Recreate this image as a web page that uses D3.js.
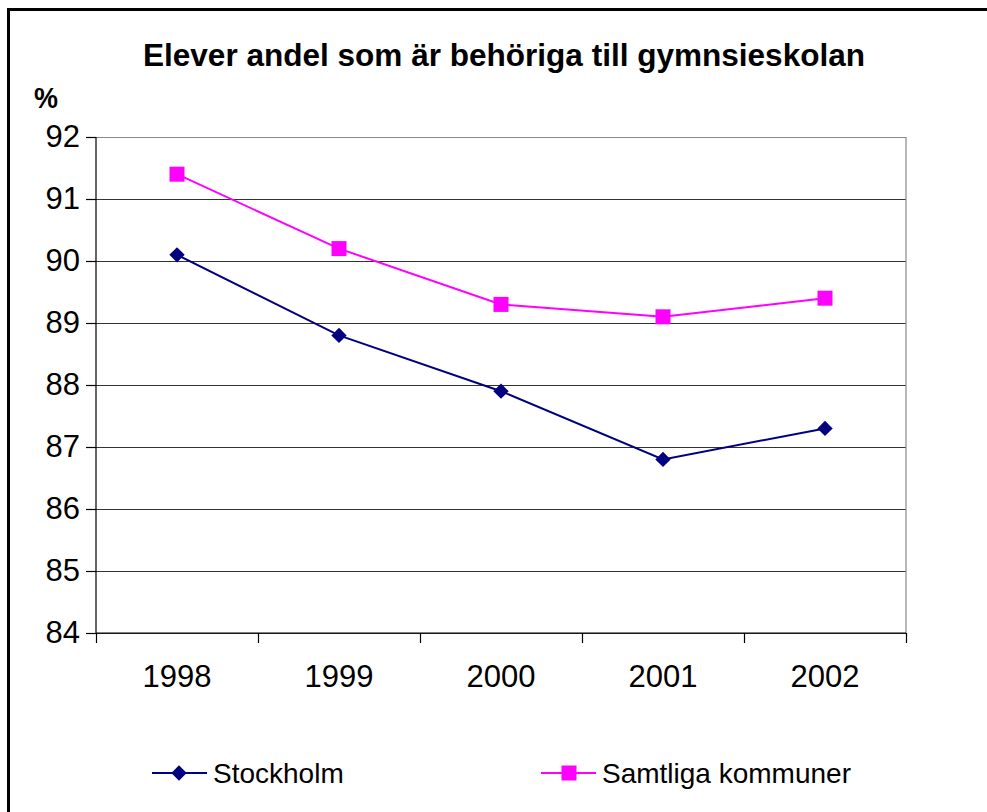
<!DOCTYPE html>
<html>
<head>
<meta charset="utf-8">
<script src="https://cdn.jsdelivr.net/npm/d3@7"></script>
<style>
  body { margin: 0; background: #fff; }
  svg text { font-family: Arial, "Liberation Sans", sans-serif; }
</style>
</head>
<body>
<div id="chart-area"></div>
<script>
// data
var years = ['1998', '1999', '2000', '2001', '2002'];
var stockholm = [90.1, 88.8, 87.9, 86.8, 87.3];
var samtliga = [91.4, 90.2, 89.3, 89.1, 89.4];
var yTicks = [84, 85, 86, 87, 88, 89, 90, 91, 92];
var seriesNames = ['Stockholm', 'Samtliga kommuner'];

var width = 987;
var height = 812;

var svg = d3.select('#chart-area')
	.append('svg')
	.attr('width', width)
	.attr('height', height);

// outer frame (only top and left visible)
svg.append('rect')
	.attr('x', 8.5).attr('y', 9.5)
	.attr('width', 1000).attr('height', 900)
	.attr('fill', 'none')
	.attr('stroke', '#000')
	.attr('stroke-width', 3);

var plot = { left: 96, right: 906, top: 137, bottom: 633 };

var x = d3.scaleBand()
	.domain(years)
	.range([plot.left, plot.right])
	.padding(0);

var xEdge = d3.scaleLinear()
	.domain([0, years.length])
	.range([plot.left, plot.right]);

var y = d3.scaleLinear()
	.domain([84, 92])
	.range([plot.bottom, plot.top]);

// gridlines
svg.append('g')
	.attr('transform', 'translate(' + plot.left + ',0)')
	.call(d3.axisLeft(y).tickValues(yTicks).tickSize(-(plot.right - plot.left)).tickFormat(''))
	.call(g => g.select('.domain').remove())
	.selectAll('line')
		.attr('stroke', d => d == 92 ? '#888' : '#333')
		.attr('stroke-width', 1.2);

// plot right border
svg.append('line')
	.attr('x1', plot.right).attr('x2', plot.right)
	.attr('y1', plot.top).attr('y2', plot.bottom)
	.attr('stroke', '#888')
	.attr('stroke-width', 1.2);

// y axis
var yAxis = svg.append('g')
	.attr('transform', 'translate(' + plot.left + ',0)')
	.call(d3.axisLeft(y).tickValues(yTicks).tickSize(10).tickPadding(6));
yAxis.selectAll('line, path').attr('stroke', '#000').attr('stroke-width', 1.2);
yAxis.select('.domain').attr('d', 'M0,' + plot.top + 'V' + plot.bottom);
yAxis.selectAll('text')
	.attr('font-size', 31)
	.attr('fill', '#000')
	.attr('font-family', 'Arial, "Liberation Sans", sans-serif');

// x axis line + ticks at category edges
var xAxis = svg.append('g')
	.attr('transform', 'translate(0,' + plot.bottom + ')')
	.call(d3.axisBottom(xEdge).tickValues(d3.range(years.length + 1)).tickSize(10).tickFormat(''));
xAxis.selectAll('line, path').attr('stroke', '#000').attr('stroke-width', 1.2);
xAxis.select('.domain').attr('d', 'M' + plot.left + ',0H' + plot.right);

// x labels
var xLabels = svg.append('g')
	.attr('transform', 'translate(0,' + plot.bottom + ')')
	.call(d3.axisBottom(x).tickSize(0).tickPadding(32));
xLabels.select('.domain').remove();
xLabels.selectAll('text')
	.attr('font-size', 31)
	.attr('fill', '#000')
	.attr('font-family', 'Arial, "Liberation Sans", sans-serif');

var cx = d => x(d) + x.bandwidth() / 2;
var line = d3.line()
	.x((d, i) => cx(years[i]))
	.y(d => y(d));

// Samtliga kommuner
svg.append('path')
	.datum(samtliga)
	.attr('d', line)
	.attr('fill', 'none')
	.attr('stroke', '#ff00ff')
	.attr('stroke-width', 2);

svg.selectAll('.sq')
	.data(samtliga)
	.enter()
		.append('rect')
		.attr('class', 'sq')
		.attr('x', (d, i) => cx(years[i]) - 7.5)
		.attr('y', d => y(d) - 7.5)
		.attr('width', 15)
		.attr('height', 15)
		.attr('fill', '#ff00ff');

// Stockholm
svg.append('path')
	.datum(stockholm)
	.attr('d', line)
	.attr('fill', 'none')
	.attr('stroke', '#000080')
	.attr('stroke-width', 2);

var diamond = d3.symbol().type(d3.symbolDiamond2).size(150);
svg.selectAll('.dm')
	.data(stockholm)
	.enter()
		.append('path')
		.attr('class', 'dm')
		.attr('d', diamond)
		.attr('transform', (d, i) => 'translate(' + cx(years[i]) + ',' + y(d) + ')')
		.attr('fill', '#000080');

// title
svg.append('text')
	.attr('x', 504)
	.attr('y', 66)
	.attr('text-anchor', 'middle')
	.attr('font-size', 31)
	.attr('font-weight', 'bold')
	.attr('textLength', 722)
	.attr('lengthAdjust', 'spacingAndGlyphs')
	.text('Elever andel som är behöriga till gymnsieskolan');

svg.append('text')
	.attr('x', 34)
	.attr('y', 108)
	.attr('font-size', 30)
	.attr('font-weight', 'bold')
	.attr('textLength', 24)
	.attr('lengthAdjust', 'spacingAndGlyphs')
	.text('%');

// legend
var legend = [
	{ name: seriesNames[0], color: '#000080', x: 152, marker: 'diamond' },
	{ name: seriesNames[1], color: '#ff00ff', x: 541, marker: 'square' }
];
var lg = svg.selectAll('.legend')
	.data(legend)
	.enter()
		.append('g')
		.attr('class', 'legend')
		.attr('transform', d => 'translate(' + d.x + ',773)');

lg.append('line')
	.attr('x1', 0).attr('x2', 55)
	.attr('stroke', d => d.color)
	.attr('stroke-width', 2);

lg.filter(d => d.marker == 'diamond').append('path')
	.attr('d', diamond)
	.attr('transform', 'translate(27,0)')
	.attr('fill', d => d.color);

lg.filter(d => d.marker == 'square').append('rect')
	.attr('x', 20.5).attr('y', -7.5)
	.attr('width', 15).attr('height', 15)
	.attr('fill', d => d.color);

lg.append('text')
	.attr('x', 61)
	.attr('y', 10)
	.attr('font-size', 28)
	.attr('fill', '#000')
	.text(d => d.name);
</script>
</body>
</html>
